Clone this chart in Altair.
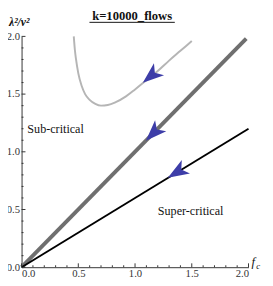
import altair as alt
import pandas as pd

# ---- data ----
curve_x = [0.46, 0.47, 0.48, 0.50, 0.53, 0.56, 0.60, 0.65, 0.70, 0.76, 0.83, 0.92, 1.00, 1.10, 1.20, 1.30, 1.40, 1.50]
curve_y = [2.00, 1.88, 1.80, 1.68, 1.57, 1.50, 1.45, 1.415, 1.40, 1.405, 1.43, 1.48, 1.54, 1.62, 1.70, 1.79, 1.875, 1.96]

crit_x = [0.0, 1.98]
crit_y = [0.0, 1.98]

super_x = [0.0, 2.0]
super_y = [0.0, 1.2]

arrow_x = [1.15, 1.17, 1.38]
arrow_y = [1.665, 1.17, 0.83]
arrow_angle = [230, 224.5, 238.6]

label_text = ["Sub-critical", "Super-critical"]
label_x = [0.30, 1.49]
label_y = [1.20, 0.49]

major_ticks = [0.0, 0.5, 1.0, 1.5, 2.0]
minor_ticks = [i / 10 for i in range(0, 21) if i % 5 != 0]

W, H = 234, 238
SERIF = "'Liberation Serif', 'Times New Roman', 'DejaVu Serif', serif"

xs = alt.Scale(domain=[0, 2], nice=False, zero=True)
ys = alt.Scale(domain=[0, 2], nice=False, zero=True)

curve_df = pd.DataFrame({"x": curve_x, "y": curve_y})
crit_df = pd.DataFrame({"x": crit_x, "y": crit_y})
super_df = pd.DataFrame({"x": super_x, "y": super_y})
arrow_df = pd.DataFrame({"x": arrow_x, "y": arrow_y, "a": arrow_angle})
label_df = pd.DataFrame({"t": label_text, "x": label_x, "y": label_y})
major_df = pd.DataFrame({"v": major_ticks})
minor_df = pd.DataFrame({"v": minor_ticks})

xaxis = alt.Axis(values=major_ticks, format=".1f", ticks=False, grid=False, domainColor="#333",
                 labelFont=SERIF, labelFontSize=11, labelColor="#333", labelPadding=1, title=None)
yaxis = alt.Axis(values=major_ticks, format=".1f", ticks=False, grid=False, domainColor="#333",
                 labelFont=SERIF, labelFontSize=11, labelColor="#333", labelPadding=2, title=None)

base_axes = alt.Chart(crit_df).mark_line(opacity=0).encode(
    x=alt.X("x:Q", scale=xs, axis=xaxis),
    y=alt.Y("y:Q", scale=ys, axis=yaxis),
)

curve = alt.Chart(curve_df).mark_line(color="#b5b5b5", strokeWidth=2, interpolate="monotone").encode(
    x=alt.X("x:Q", scale=xs), y=alt.Y("y:Q", scale=ys), order="x:Q")
crit = alt.Chart(crit_df).mark_line(color="#6f6f6f", strokeWidth=4).encode(
    x=alt.X("x:Q", scale=xs), y=alt.Y("y:Q", scale=ys))
sup = alt.Chart(super_df).mark_line(color="#000000", strokeWidth=2).encode(
    x=alt.X("x:Q", scale=xs), y=alt.Y("y:Q", scale=ys))

arrow_shape = "M0,-1 L0.65,0.75 L0,0.3 L-0.65,0.75 Z"
arrows = alt.Chart(arrow_df).mark_point(shape=arrow_shape, filled=True, color="#3d3da8",
                                        opacity=1, size=620, strokeWidth=0).encode(
    x=alt.X("x:Q", scale=xs), y=alt.Y("y:Q", scale=ys), angle=alt.Angle("a:Q", scale=None))

labels = alt.Chart(label_df).mark_text(font=SERIF, fontSize=12.5, color="#111").encode(
    x=alt.X("x:Q", scale=xs), y=alt.Y("y:Q", scale=ys), text="t:N")

xmaj = alt.Chart(major_df).mark_rule(color="#333", strokeWidth=1).encode(
    x=alt.X("v:Q", scale=xs), y=alt.value(H), y2=alt.value(H - 4))
xmin = alt.Chart(minor_df).mark_rule(color="#333", strokeWidth=1).encode(
    x=alt.X("v:Q", scale=xs), y=alt.value(H), y2=alt.value(H - 2))
ymaj = alt.Chart(major_df).mark_rule(color="#333", strokeWidth=1).encode(
    y=alt.Y("v:Q", scale=ys), x=alt.value(0), x2=alt.value(4))
ymin = alt.Chart(minor_df).mark_rule(color="#333", strokeWidth=1).encode(
    y=alt.Y("v:Q", scale=ys), x=alt.value(0), x2=alt.value(2))

title = alt.Chart(major_df).transform_filter("datum.v == 0").mark_text(
    text="k=10000_flows", font=SERIF, fontSize=13, fontWeight="bold", color="#111",
    align="center", baseline="alphabetic").encode(x=alt.value(114), y=alt.value(-17))
underline = alt.Chart(major_df).transform_filter("datum.v == 0").mark_rule(
    color="#111", strokeWidth=1).encode(x=alt.value(70), x2=alt.value(158), y=alt.value(-14.5))
ytitle = alt.Chart(major_df).transform_filter("datum.v == 0").mark_text(
    text="λ²/ν²", font=SERIF, fontSize=12, fontWeight="bold", fontStyle="italic", color="#111",
    align="left", baseline="alphabetic").encode(x=alt.value(-13), y=alt.value(-11))
xt_f = alt.Chart(major_df).transform_filter("datum.v == 0").mark_text(
    text="f", font=SERIF, fontSize=13, fontStyle="italic", color="#111",
    align="left", baseline="alphabetic").encode(x=alt.value(237), y=alt.value(H - 1))
xt_c = alt.Chart(major_df).transform_filter("datum.v == 0").mark_text(
    text="c", font=SERIF, fontSize=9, fontStyle="italic", color="#111",
    align="left", baseline="alphabetic").encode(x=alt.value(242), y=alt.value(H + 2))

chart = alt.layer(base_axes, curve, crit, sup, arrows, labels, xmaj, xmin, ymaj, ymin,
                  title, underline, ytitle, xt_f, xt_c).properties(
    width=W, height=H,
    autosize=alt.AutoSizeParams(type="none"),
    padding={"left": 14, "top": 25, "right": 17, "bottom": 12},
).configure_view(stroke=None)

chart.save("out.html", embed_options={"renderer": "svg", "actions": False})
